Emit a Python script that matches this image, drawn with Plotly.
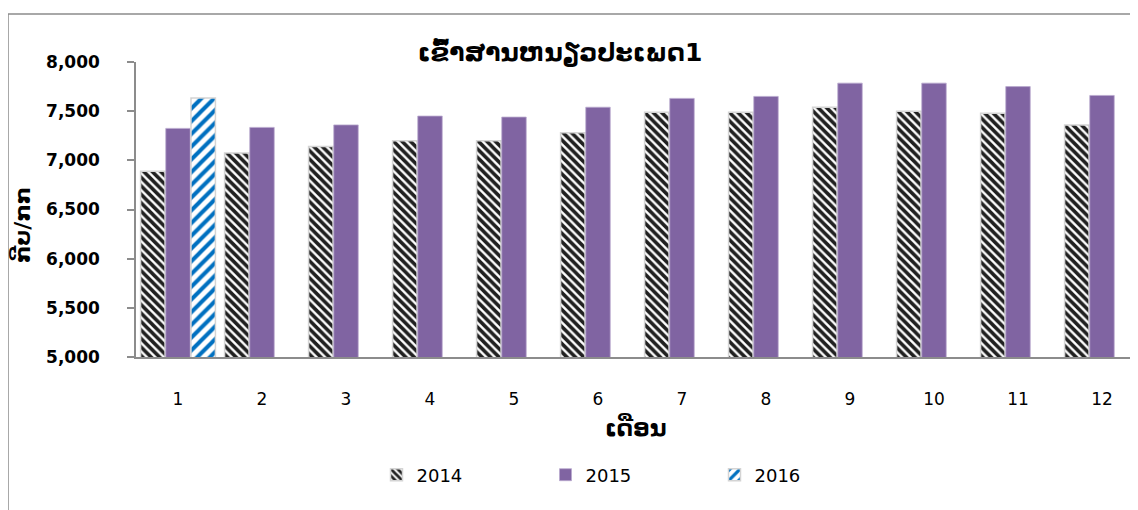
import plotly.graph_objects as go

months = [1, 2, 3, 4, 5, 6, 7, 8, 9, 10, 11, 12]
month_labels = ["1", "2", "3", "4", "5", "6", "7", "8", "9", "10", "11", "12"]
v2014 = [6890, 7075, 7140, 7200, 7200, 7280, 7490, 7490, 7540, 7500, 7480, 7360]
v2015 = [7325, 7335, 7360, 7450, 7440, 7540, 7630, 7650, 7785, 7785, 7750, 7660]
m2016 = [1]
v2016 = [7635]
ytick_vals = [5000, 5500, 6000, 6500, 7000, 7500, 8000]
ytick_text = ["5,000", "5,500", "6,000", "6,500", "7,000", "7,500", "8,000"]

title_text = "ເຂົ້າສານຫນຽວປະເພດ1"
ytitle_text = "ກີບ/ກກ"
xtitle_text = "ເດືອນ"

fig = go.Figure()
fig.add_trace(go.Bar(
    x=months, y=v2014, name="2014",
    marker=dict(color="white", line=dict(color="#D4D4D4", width=1.5),
                pattern=dict(shape="\\", fgcolor="#202020", bgcolor="white",
                             fgopacity=1, size=6, solidity=0.6)),
))
fig.add_trace(go.Bar(
    x=months, y=v2015, name="2015",
    marker=dict(color="#8064A2", line=dict(color="#B9A9CE", width=0.8)),
))
fig.add_trace(go.Bar(
    x=m2016, y=v2016, name="2016",
    marker=dict(color="white", line=dict(color="#D4D4D4", width=1.5),
                pattern=dict(shape="/", fgcolor="#0070C0", bgcolor="white",
                             fgopacity=1, size=9, solidity=0.45)),
))

# page body adds an 8px offset; work in screenshot pixels and shift
OFF = 8
W, H = 1138 - OFF, 510 - OFF
L, T = 136 - OFF, 62 - OFF
PB = 357 - OFF  # plot bottom in figure px
B = H - PB
R = 0
pw = W - L - R
ph = H - T - B

def px_x(x):
    return (x - OFF - L) / pw

def px_y(y):
    return (PB - (y - OFF)) / ph

fig.update_layout(
    width=W, height=H,
    margin=dict(l=L, r=R, t=T, b=B, pad=0),
    paper_bgcolor="white", plot_bgcolor="white",
    barmode="group", bargap=0.1, bargroupgap=0.03,
    title=dict(text=title_text, x=(560 - OFF) / W, xref="container", xanchor="center",
               y=1 - (52 - OFF) / H, yref="container", yanchor="middle",
               font=dict(family="DejaVu Sans", size=25, color="black", weight="bold")),
    showlegend=True,
    legend=dict(orientation="h", x=px_x(630), xanchor="center",
                y=px_y(475), yanchor="middle",
                font=dict(family="DejaVu Sans", size=18, color="black"),
                entrywidth=124, entrywidthmode="pixels",
                itemwidth=30, bgcolor="rgba(0,0,0,0)"),
    xaxis=dict(range=[0.5, 0.5 + pw / 84], tickmode="array", tickvals=months,
               ticktext=month_labels, showgrid=False, zeroline=False,
               showline=True, linecolor="#8C8C8C", linewidth=1.5, ticks="",
               ticklabelstandoff=26,
               tickfont=dict(family="DejaVu Sans", size=17, color="black")),
    yaxis=dict(range=[5000, 8000], tickmode="array", tickvals=ytick_vals,
               ticktext=ytick_text, showgrid=False, zeroline=False,
               showline=True, linecolor="#8C8C8C", linewidth=1.5,
               ticks="outside", ticklen=7, tickcolor="#8C8C8C", tickwidth=1.5,
               ticklabelstandoff=24,
               tickfont=dict(family="DejaVu Sans", size=17, color="black", weight="bold")),
)

fig.add_annotation(text=ytitle_text, xref="paper", yref="paper",
                   x=px_x(22), y=px_y(225), textangle=-90, showarrow=False,
                   xanchor="center", yanchor="middle",
                   font=dict(family="DejaVu Sans", size=22, color="black", weight="bold"))
fig.add_annotation(text=xtitle_text, xref="paper", yref="paper",
                   x=px_x(636), y=px_y(427), showarrow=False,
                   xanchor="center", yanchor="middle",
                   font=dict(family="DejaVu Sans", size=23, color="black", weight="bold"))

fig.add_shape(type="rect", xref="paper", yref="paper",
              x0=px_x(8), x1=px_x(1170), y0=px_y(560), y1=px_y(14),
              line=dict(color="#8C8C8C", width=1.5), fillcolor="rgba(0,0,0,0)",
              layer="above")

fig.write_html("out.html")
